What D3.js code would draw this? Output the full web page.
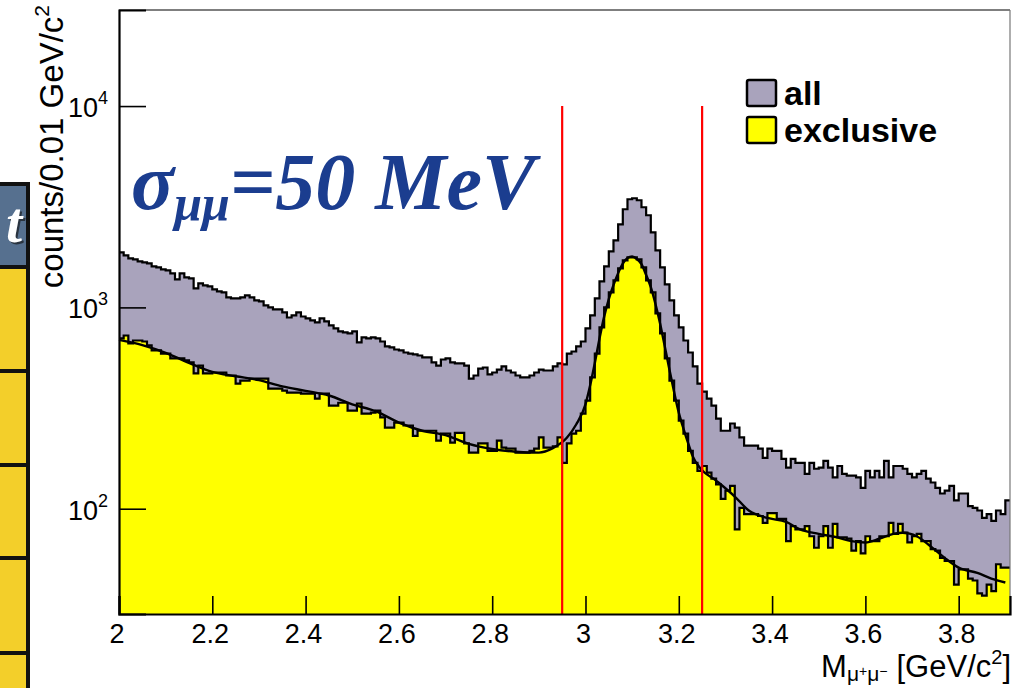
<!DOCTYPE html>
<html><head><meta charset="utf-8">
<script src="https://cdn.jsdelivr.net/npm/d3@7"></script>
<style>body{margin:0;background:#fff}svg{display:block}</style>
</head><body>
<svg id="c" width="1028" height="688"></svg>
<script>
// ---- data ----
const binStart = 2.00, binWidth = 0.01;
const allCounts = [
1877,1814,1753,1733,1693,1674,1655,1599,1581,1545,
1528,1476,1378,1476,1410,1394,1243,1316,1287,1271,
1229,1201,1187,1121,1109,1109,1121,1148,1121,1084,
1072,1023,1000,977,977,944,891,912,944,901,
881,862,842,881,852,814,787,760,752,743,
760,670,709,701,709,701,677,640,633,618,
611,597,590,584,577,564,564,533,514,551,
558,533,527,527,514,443,459,497,503,465,
475,491,509,486,475,459,449,449,459,475,
491,486,486,509,527,521,590,604,640,677,
787,912,1109,1347,1599,1899,2154,2587,3072,3445,
3485,3406,3143,2868,2360,1921,1581,1301,1084,912,
795,685,597,509,418,382,352,325,280,244,
244,265,253,226,206,206,206,199,179,199,
194,194,177,160,177,169,169,149,169,158,
160,173,160,143,163,149,146,146,143,127,
154,143,154,143,173,143,163,163,158,149,
143,149,154,141,135,127,119,123,130,110,
119,119,103,101,98,90,94,87,98,94,110];
const exclCounts = [
701,725,662,685,685,677,647,611,611,590,
590,558,558,558,545,533,470,514,470,470,
475,475,475,459,459,418,433,433,443,443,
443,443,395,395,395,386,377,377,377,373,
373,373,352,373,373,325,325,336,336,307,
307,333,297,297,300,307,284,253,253,268,
268,259,259,230,244,244,244,244,218,236,
236,213,238,238,211,190,190,211,211,194,
194,218,201,199,199,190,190,190,194,199,
226,201,201,204,226,169,211,236,244,297,
344,449,590,795,1000,1187,1362,1563,1713,1773,
1773,1733,1581,1362,1187,933,743,558,433,344,
274,236,194,169,154,163,151,141,132,112,
123,130,79,101,94,94,94,92,85,95,
95,89,89,69,82,79,79,82,73,64,
73,82,64,84,72,72,71,62,69,60,
73,69,69,73,73,85,75,84,76,68,
73,75,69,69,63,62,57,55,55,42,
50,50,45,44,38,37,42,39,53,51,51];
const fitMass = [2.00,2.05,2.10,2.15,2.20,2.25,2.30,2.35,2.40,2.45,2.50,2.55,2.60,2.65,2.70,2.75,2.80,2.85,2.90,
2.93,2.96,2.98,
3.00,3.01,3.02,3.03,3.04,3.05,3.06,3.07,3.08,3.09,3.10,3.11,3.12,3.13,3.14,3.15,3.16,3.17,3.18,3.19,3.20,3.21,3.22,3.23,
3.245,3.28,3.32,3.35,3.39,3.43,3.46,3.50,3.54,3.57,3.60,3.63,3.66,3.68,3.71,3.74,3.77,3.80,3.84,3.87,3.90];
const fitCounts = [690,650,595,530,478,455,435,405,385,365,330,305,268,244,232,210,198,192,190,
200,225,262,
330,410,530,700,900,1100,1290,1480,1650,1760,1790,1740,1640,1450,1260,1040,830,640,490,380,300,250,212,182,
160,138,115,98,90,86,79,75,72,69,68,71,75,76,73,65,57,51,48,45,43];
const cutLines = [2.95, 3.25];
const xDomain = [2.0, 3.91];
const yDomain = [30, 30000];
const xMajorTicks = [2.0,2.2,2.4,2.6,2.8,3.0,3.2,3.4,3.6,3.8];
const xTickLabels = ["2","2.2","2.4","2.6","2.8","3","3.2","3.4","3.6","3.8"];
const yMajorTicks = [100,1000,10000];
const yTickExp = ["2","3","4"];
const legendLabels = ["all","exclusive"];
const legendColors = ["#a9a3bc","#ffff00"];

// ---- drawing ----
const svg = d3.select("#c");
const L=119,R=1010,T=10,B=614;
const x = d3.scaleLinear().domain(xDomain).range([L,R]);
const y = d3.scaleLog().domain(yDomain).range([B,T]);

// left slide table fragment
const tbl = svg.append("g");
tbl.append("rect").attr("x",-10).attr("y",184).attr("width",38).attr("height",520).attr("fill","#f3cf2a");
tbl.append("rect").attr("x",-10).attr("y",184).attr("width",38).attr("height",83).attr("fill","#56708f");
tbl.append("text").attr("x",22).attr("y",242).attr("text-anchor","end")
  .attr("font-family","Liberation Serif").attr("font-style","italic").attr("font-weight","bold")
  .attr("font-size",58).attr("fill","#2a3440").text("t").attr("transform","translate(2,2)");
tbl.append("text").attr("x",22).attr("y",242).attr("text-anchor","end")
  .attr("font-family","Liberation Serif").attr("font-style","italic").attr("font-weight","bold")
  .attr("font-size",58).attr("fill","#ffffff").text("t");
[184,267,371,465,558,653].forEach(v=>tbl.append("line").attr("x1",-10).attr("x2",30).attr("y1",v).attr("y2",v).attr("stroke","#111").attr("stroke-width",4));
tbl.append("line").attr("x1",28).attr("x2",28).attr("y1",182).attr("y2",688).attr("stroke","#111").attr("stroke-width",4);

function stepPts(counts){
  const pts=[];
  counts.forEach((c,i)=>{const lo=binStart+i*binWidth, hi=lo+binWidth; pts.push([x(lo),y(c)],[x(Math.min(hi,xDomain[1])),y(c)]);});
  return pts;
}
function drawHist(counts, fill){
  const pts=stepPts(counts);
  const area=[[x(binStart),B],...pts,[pts[pts.length-1][0],B]];
  svg.append("path").attr("d",d3.line()(area)).attr("fill",fill).attr("stroke","none");
  svg.append("path").attr("d",d3.line()(pts)).attr("fill","none").attr("stroke","#000").attr("stroke-width",2.2).attr("stroke-linejoin","miter");
}
drawHist(allCounts, legendColors[0]);
drawHist(exclCounts, legendColors[1]);

// fit
svg.append("path").datum(fitMass.map((m,i)=>[x(m),y(fitCounts[i])]))
  .attr("d",d3.line().curve(d3.curveMonotoneX)).attr("fill","none").attr("stroke","#000").attr("stroke-width",2.4);

// cut lines
cutLines.forEach(m=>svg.append("line").attr("x1",x(m)).attr("x2",x(m)).attr("y1",y(10000)).attr("y2",B)
  .attr("stroke","#ff0000").attr("stroke-width",2.2));

// frame
svg.append("line").attr("x1",L).attr("x2",R).attr("y1",T).attr("y2",T).attr("stroke","#000").attr("stroke-width",1.2);
svg.append("line").attr("x1",R).attr("x2",R).attr("y1",T).attr("y2",B).attr("stroke","#777").attr("stroke-width",1.2);

// axes
const xMinor=d3.range(0,39).map(i=>2+i*0.05).filter(v=>v<=3.91);
const gx=svg.append("g").attr("transform",`translate(0,${B})`);
gx.call(d3.axisBottom(x).tickValues(xMinor).tickSize(-9).tickFormat(""));
gx.call(d3.axisBottom(x).tickValues(xMajorTicks).tickSize(-18).tickFormat(""));
gx.selectAll("path.domain").attr("stroke","#000").attr("stroke-width",2.2);
gx.selectAll(".tick line").attr("stroke","#000").attr("stroke-width",1.6);
xMajorTicks.forEach((v,i)=>svg.append("text").attr("x",x(v)-2).attr("y",643).attr("text-anchor","middle")
  .attr("font-family","Liberation Sans").attr("font-size",27).attr("fill","#000").text(xTickLabels[i]));

const yMinor=[];[10,100,1000,10000].forEach(d=>[2,3,4,5,6,7,8,9].forEach(k=>{const v=k*d;if(v>=30&&v<=30000)yMinor.push(v);}));
const gy=svg.append("g").attr("transform",`translate(${L},0)`);
gy.call(d3.axisLeft(y).tickValues(yMinor).tickSize(-14).tickFormat(""));
gy.call(d3.axisLeft(y).tickValues(yMajorTicks).tickSize(-27).tickFormat(""));
gy.selectAll("path.domain").attr("stroke","#000").attr("stroke-width",2.2);
gy.selectAll(".tick line").attr("stroke","#000").attr("stroke-width",1.6);
yMajorTicks.forEach((v,i)=>{
  const t=svg.append("text").attr("x",68).attr("y",y(v)+11).attr("font-family","Liberation Sans").attr("font-size",27).attr("fill","#000");
  t.append("tspan").text("10");
  t.append("tspan").attr("font-size",18).attr("dy",-13).text(yTickExp[i]);
});

// axis titles
const yt=svg.append("text").attr("transform","translate(63,5) rotate(-90)").attr("text-anchor","end")
  .attr("font-family","Liberation Sans").attr("font-size",33).attr("fill","#000");
yt.append("tspan").text("counts/0.01 GeV/c");
yt.append("tspan").attr("font-size",21).attr("dy",-14).text("2");

// x title built from pieces (text, size, dy, gap before), right-aligned at the frame edge
const xtPieces=[["M",31,0,0],["μ",21,4,0],["+",14,-1,0],["μ",21,4,0],["−",14,-1,0],["[GeV/c",31,0,9],["2",20,-13,0],["]",31,0,0]];
const xtG=svg.append("g");
let cx=0;
xtPieces.forEach(p=>{
  cx+=p[3];
  const t=xtG.append("text").attr("x",cx).attr("y",677+p[2]).attr("font-family","Liberation Sans")
    .attr("font-size",p[1]).attr("fill","#000").text(p[0]);
  cx+=t.node().getComputedTextLength();
});
xtG.attr("transform",`translate(${1011-cx},0)`);

// sigma annotation
const st=svg.append("text").attr("x",131).attr("y",209).attr("font-family","Liberation Serif")
  .attr("font-weight","bold").attr("font-style","italic").attr("font-size",80).attr("fill","#1b3d8f");
st.append("tspan").text("σ");
st.append("tspan").attr("font-size",50).attr("dy",11).text("μμ");
st.append("tspan").attr("dy",-11).text("=50 MeV");

// legend
legendLabels.forEach((lab,i)=>{
  const yy=80+i*37;
  svg.append("rect").attr("x",747).attr("y",yy).attr("width",29).attr("height",26).attr("rx",2)
    .attr("fill",legendColors[i]).attr("stroke","#000").attr("stroke-width",2.5);
  svg.append("text").attr("x",784).attr("y",yy+25).attr("font-family","Liberation Sans").attr("font-weight","bold")
    .attr("font-size",34).attr("fill","#000").text(lab);
});
</script>
</body></html>
